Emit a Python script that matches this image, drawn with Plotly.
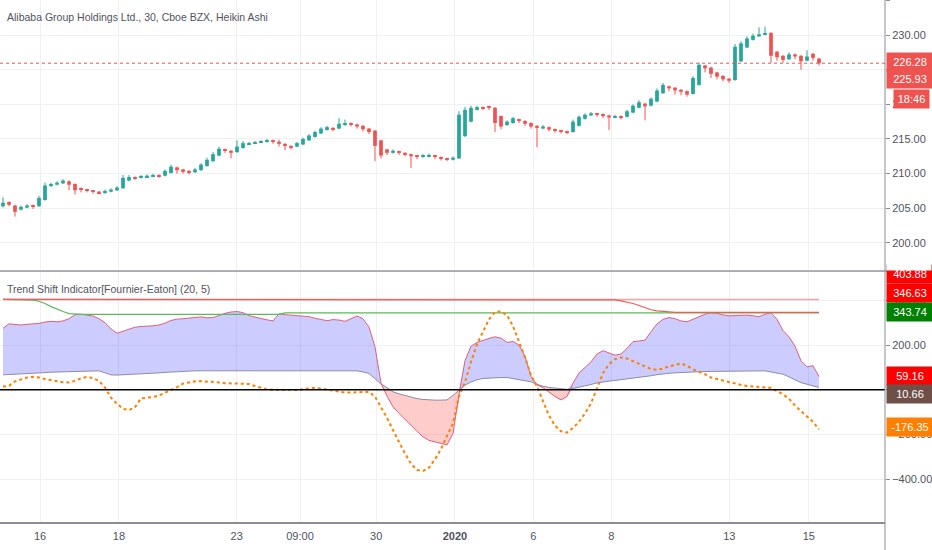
import plotly.graph_objects as go

# 30-minute Heikin Ashi bars, sampled every other bar
bar_index = list(range(137))
ha_open = [205.3, 205.9, 205.4, 204.8, 205.1, 205.4, 205.3, 206.2, 208.2, 208.4,
           208.6, 208.9, 208.5, 207.9, 207.7, 207.5, 207.4, 207.2, 207.4, 207.6,
           207.9, 209.0, 209.5, 209.4, 209.5, 209.6, 209.8, 209.7, 210.1, 210.9,
           210.6, 210.4, 210.2, 210.5, 211.1, 211.8, 212.6, 213.5, 213.3, 213.1,
           213.7, 214.2, 214.4, 214.5, 214.6, 214.8, 214.6, 214.3, 214.0, 213.9,
           214.2, 214.8, 215.3, 215.8, 216.3, 216.6, 216.5, 217.0, 217.3, 217.1,
           216.9, 216.5, 216.2, 214.8, 213.5, 213.0, 213.2, 213.0, 212.8, 212.6,
           212.4, 212.5, 212.6, 212.4, 212.2, 212.0, 212.2, 215.4, 217.5, 219.2,
           219.6, 219.65, 219.5, 218.3, 217.0, 217.3, 217.8, 217.6, 217.3, 216.9,
           216.5, 216.7, 216.4, 216.25, 216.15, 216.0, 216.9, 217.9, 218.4, 218.6,
           218.6, 218.4, 218.1, 218.3, 218.2, 218.8, 219.5, 220.1, 219.8, 220.4,
           221.6, 222.6, 222.4, 222.1, 221.9, 221.5, 222.8, 225.6, 225.3, 224.6,
           224.1, 223.7, 223.5, 226.2, 228.2, 229.3, 229.8, 230.1, 230.3, 227.6,
           227.0, 226.5, 227.2, 227.0, 226.3, 227.3, 226.6]
ha_close = [205.8, 205.5, 204.5, 205.2, 205.4, 205.2, 206.5, 208.3, 208.5, 208.7,
            209.0, 208.4, 207.6, 207.7, 207.5, 207.35, 207.2, 207.5, 207.7, 208.0,
            209.4, 209.5, 209.35, 209.6, 209.7, 209.8, 209.65, 210.4, 211.0, 210.5,
            210.25, 210.2, 210.6, 211.3, 212.0, 212.8, 213.6, 213.3, 213.0, 213.9,
            214.4, 214.4, 214.5, 214.6, 214.8, 214.6, 214.3, 214.0, 213.8, 214.4,
            215.0, 215.5, 216.0, 216.5, 216.7, 216.4, 217.2, 217.3, 217.1, 216.8,
            216.4, 216.0, 214.0, 212.6, 213.0, 213.3, 213.0, 212.8, 212.5, 212.4,
            212.6, 212.7, 212.4, 212.2, 212.0, 212.3, 218.5, 219.2, 219.5, 219.6,
            219.45, 219.5, 217.3, 216.8, 217.5, 218.0, 217.6, 217.2, 216.8, 216.6,
            216.8, 216.35, 216.2, 216.1, 216.0, 217.5, 218.2, 218.5, 218.7, 218.5,
            218.3, 218.1, 218.3, 218.1, 219.0, 219.8, 220.3, 219.7, 220.8, 222.0,
            222.8, 222.3, 222.0, 221.8, 221.4, 223.8, 225.7, 225.2, 224.4, 224.0,
            223.6, 223.4, 228.3, 228.8, 229.5, 229.9, 230.1, 230.3, 227.0, 226.8,
            226.4, 227.2, 226.9, 226.2, 226.9, 226.7, 225.93]
ha_high = [206.6, 206.0, 205.5, 205.4, 205.6, 205.5, 206.8, 208.7, 208.7, 208.9,
           209.2, 209.0, 208.6, 208.0, 207.8, 207.6, 207.5, 207.7, 207.9, 208.2,
           209.8, 209.8, 209.6, 209.8, 209.9, 210.0, 209.9, 210.6, 211.3, 211.0,
           210.7, 210.5, 210.8, 211.5, 212.3, 213.1, 213.9, 213.6, 213.4, 214.8,
           214.7, 214.6, 214.7, 214.8, 215.0, 214.9, 214.9, 214.4, 214.1, 214.6,
           215.2, 215.7, 216.2, 216.7, 216.9, 216.7, 218.0, 217.8, 217.4, 217.2,
           217.0, 216.6, 216.3, 214.9, 213.6, 213.5, 213.3, 213.1, 212.9, 212.7,
           212.8, 212.9, 212.7, 212.5, 212.3, 212.5, 219.0, 219.6, 219.8, 219.8,
           219.7, 219.8, 219.6, 218.4, 217.7, 218.2, 217.9, 217.7, 217.4, 217.0,
           217.0, 216.8, 216.5, 216.3, 216.2, 217.8, 218.4, 218.7, 218.9, 218.7,
           218.7, 218.5, 218.5, 218.4, 219.2, 220.0, 220.6, 220.2, 221.0, 222.3,
           223.1, 222.7, 222.5, 222.2, 222.0, 224.1, 226.0, 225.7, 225.4, 224.7,
           224.2, 223.8, 228.7, 229.1, 229.8, 230.2, 231.1, 231.2, 230.4, 227.7,
           227.1, 227.5, 227.3, 227.1, 227.8, 227.4, 226.7]
ha_low = [205.1, 205.3, 203.8, 204.7, 205.0, 204.9, 205.2, 206.1, 208.1, 208.3,
          208.5, 207.6, 207.0, 207.3, 207.3, 207.1, 207.0, 207.1, 207.3, 207.5,
          207.8, 208.9, 209.1, 209.3, 209.4, 209.5, 209.4, 209.6, 210.0, 210.0,
          210.0, 209.9, 210.1, 210.4, 211.0, 211.7, 212.5, 213.0, 212.2, 213.0,
          213.6, 214.1, 214.3, 214.4, 214.5, 214.3, 213.9, 213.4, 213.5, 213.8,
          214.1, 214.7, 215.2, 215.7, 216.2, 216.1, 216.4, 216.9, 216.8, 216.5,
          216.1, 215.7, 211.8, 212.2, 212.7, 212.9, 212.7, 212.5, 210.8, 212.1,
          212.3, 212.4, 212.1, 211.9, 211.8, 211.9, 212.1, 215.3, 217.4, 219.1,
          219.2, 219.2, 216.0, 216.4, 216.9, 217.2, 217.3, 216.9, 216.5, 213.8,
          216.4, 216.1, 215.9, 215.8, 215.7, 215.9, 216.8, 217.8, 218.3, 218.2,
          218.0, 216.3, 218.0, 217.8, 218.1, 218.7, 219.4, 217.7, 219.7, 220.3,
          221.5, 221.9, 221.4, 221.3, 221.1, 221.4, 222.7, 224.6, 223.8, 223.6,
          223.3, 223.1, 223.4, 226.1, 228.1, 229.2, 229.7, 230.0, 226.0, 226.3,
          226.0, 226.4, 226.5, 225.0, 226.2, 226.3, 225.6]
last_price = 225.93
quote_price = 226.28
countdown = '18:46'

# Trend Shift Indicator [Fournier-Eaton] (20, 5)
tsi_upper = [275, 295, 292, 290, 293, 295, 297, 303, 306, 304,
             308, 318, 336, 338, 334, 330, 318, 300, 272, 253,
             262, 272, 280, 283, 284, 286, 290, 298, 310, 316,
             318, 320, 325, 326, 322, 323, 332, 342, 348, 350,
             345, 332, 325, 318, 313, 308, 340, 336, 333, 330,
             328, 327, 320, 313, 309, 314, 312, 306, 318, 330,
             318, 280, 192, 30, -28, -76, -105, -130, -158, -185,
             -210, -226, -233, -240, -246, -195, -20, 130, 195, 212,
             222, 230, 237, 231, 212, 216, 200, 150, 60, 22,
             10, -10, -30, -45, -30, 30, 75, 100, 125, 160,
             175, 165, 155, 160, 185, 215, 220, 222, 260, 295,
             315, 323, 318, 308, 304, 315, 327, 338, 345, 342,
             335, 331, 332, 334, 334, 331, 327, 338, 345, 315,
             265, 237, 195, 130, 103, 108, 59.16]
tsi_lower = [67, 68, 69, 71, 72, 73, 75, 77, 79, 80,
             81, 82, 83, 84, 85, 85, 85, 76, 67, 66,
             67, 68, 70, 71, 73, 74, 76, 78, 80, 81,
             83, 84, 85, 85, 85, 85, 85, 85, 85, 85,
             85, 85, 85, 85, 85, 85, 85, 85, 85, 85,
             85, 85, 85, 85, 85, 85, 85, 85, 85, 85,
             80, 73, 50, 25, 10, -9, -18, -26, -34, -39,
             -43, -46, -46, -46, -45, -25, 0, 21, 35, 45,
             51, 53, 54, 55, 55, 50, 45, 40, 36, 25,
             16, 11, 7, 4, 2, 6, 11, 17, 24, 31,
             36, 39, 42, 45, 48, 51, 55, 59, 63, 68,
             72, 74, 76, 78, 79, 80, 81, 82, 82, 83,
             83, 84, 84, 85, 85, 85, 85, 85, 80, 74,
             70, 58, 45, 32, 25, 18, 10.66]
tsi_signal = [15, 18, 38, 48, 55, 58, 55, 48, 43, 38,
              34, 33, 40, 52, 58, 52, 40, 10, -35, -62,
              -85, -90, -78, -38, -35, -32, -25, -12, -2, 12,
              28, 34, 38, 39, 38, 36, 33, 30, 29, 29,
              29, 26, 17, 8, 2, 0, -1, -1, -1, -1,
              3, 7, 9, 6, 2, -1, -7, -12, -12, -11,
              -10, -9, -30, -75, -125, -180, -235, -285, -330, -358,
              -362, -348, -310, -265, -205, -150, -30, 35, 125, 205,
              260, 315, 348, 350, 334, 285, 215, 145, 65, 15,
              -50, -115, -160, -185, -191, -170, -143, -105, -60, 10,
              75, 115, 137, 145, 140, 128, 116, 104, 93, 90,
              95, 105, 113, 118, 108, 92, 81, 70, 55, 48,
              40, 33, 28, 22, 17, 14, 11, 10, 9, -5,
              -20, -40, -70, -95, -120, -143, -176.35]
tsi_max = [403.88] * 102 + [402, 398, 393, 386, 377, 366, 358, 353, 350, 348] + [346.63] * 25
tsi_min = [403.88] * 5 + [401, 396, 386, 372, 360, 350, 341, 338] + [337] * 34 + [343.74] * 90
tsi_ceiling = 403.88

# x-axis labels, placed at the bar where each day starts
tick_pos = [6.17, 19.33, 38.95, 49.5, 62.2, 75.33, 88.4, 101.4, 121.05, 134.3]
tick_text = ['16', '18', '23', '09:00', '30', '<b>2020</b>', '6', '8', '13', '15']

UP = '#26a69a'
DOWN = '#ef5350'
GRID = '#eef0f4'
TXT = '#50535e'
FONT = 'Liberation Sans, Arial, sans-serif'


def candles(fig):
    for rising, color in ((True, UP), (False, DOWN)):
        xs, base, height, wx, wy = [], [], [], [], []
        for i, o, c, h, l in zip(bar_index, ha_open, ha_close, ha_high, ha_low):
            if (c >= o) != rising:
                continue
            xs.append(i)
            base.append(min(o, c))
            height.append(max(abs(c - o), 0.12))
            wx += [i, i, None]
            wy += [l, h, None]
        fig.add_trace(go.Scatter(x=wx, y=wy, mode='lines', line=dict(color=color, width=1),
                                 xaxis='x', yaxis='y', hoverinfo='skip'))
        fig.add_trace(go.Bar(x=xs, y=height, base=base, width=0.62, marker=dict(color=color, line_width=0),
                             xaxis='x', yaxis='y', hoverinfo='skip'))


def indicator(fig):
    blue_top = [max(u, l) for u, l in zip(tsi_upper, tsi_lower)]
    red_bot = [min(u, l) for u, l in zip(tsi_upper, tsi_lower)]
    ax = dict(xaxis='x2', yaxis='y2', hoverinfo='skip')

    fig.add_trace(go.Scatter(x=bar_index, y=tsi_lower, mode='lines', line=dict(width=0), **ax))
    fig.add_trace(go.Scatter(x=bar_index, y=blue_top, mode='lines', line=dict(width=0),
                             fill='tonexty', fillcolor='rgba(0,0,255,0.2)', **ax))
    fig.add_trace(go.Scatter(x=bar_index, y=tsi_lower, mode='lines', line=dict(width=0), **ax))
    fig.add_trace(go.Scatter(x=bar_index, y=red_bot, mode='lines', line=dict(width=0),
                             fill='tonexty', fillcolor='rgba(255,0,0,0.2)', **ax))
    fig.add_trace(go.Scatter(x=bar_index, y=tsi_lower, mode='lines',
                             line=dict(color='#8c8ca6', width=1), **ax))
    fig.add_trace(go.Scatter(x=bar_index, y=tsi_upper, mode='lines',
                             line=dict(color='#e0607a', width=1), **ax))

    fig.add_trace(go.Scatter(x=[bar_index[0], bar_index[-1]], y=[tsi_ceiling] * 2, mode='lines',
                             line=dict(color='#f4a4a4', width=1.5), **ax))
    fig.add_trace(go.Scatter(x=bar_index, y=tsi_min, mode='lines',
                             line=dict(color='#5cb85c', width=1.2), **ax))
    fig.add_trace(go.Scatter(x=bar_index, y=tsi_max, mode='lines',
                             line=dict(color='#f05a5a', width=1.2), **ax))
    fig.add_trace(go.Scatter(x=bar_index, y=tsi_signal, mode='lines',
                             line=dict(color='#ff7f00', width=2, dash='dot'), **ax))


def price_label(text, yref, value, shift, bg, width=42, xshift=1):
    return dict(xref='paper', x=1, xanchor='left', xshift=xshift, yref=yref, y=value, yshift=shift,
                text=text, showarrow=False, bgcolor=bg, width=width, height=14, borderpad=2,
                font=dict(color='white', size=11, family=FONT))


fig = go.Figure()
candles(fig)
indicator(fig)

axis_common = dict(showgrid=True, gridcolor=GRID, gridwidth=1, zeroline=False)
fig.update_layout(
    width=932, height=550,
    margin=dict(l=0, r=47, t=0, b=28),
    paper_bgcolor='white', plot_bgcolor='white',
    showlegend=False, barmode='overlay', hovermode=False,
    font=dict(family=FONT, color=TXT, size=11),
    xaxis=dict(domain=[0, 1], range=[-0.5, 147], tickvals=tick_pos, ticktext=tick_text,
               showticklabels=False, anchor='y', **axis_common),
    xaxis2=dict(domain=[0, 1], range=[-0.5, 147], tickvals=tick_pos, ticktext=tick_text,
                matches='x', anchor='y2', showline=True, linecolor='#8a8d96', linewidth=2,
                ticks='outside', ticklen=3, tickcolor='rgba(0,0,0,0)', **axis_common),
    yaxis=dict(domain=[0.4828, 1], range=[196.1, 235.05], side='right', anchor='x',
               dtick=5, tick0=200, tickformat='.2f', ticks='outside', ticklen=4, tickcolor='#8a8d96',
               **axis_common),
    yaxis2=dict(domain=[0, 0.4789], range=[-590.6, 526.6], side='right', anchor='x2',
                dtick=200, tick0=0, tickformat='.2f', ticks='outside', ticklen=4, tickcolor='#8a8d96',
                **axis_common),
    shapes=[
        dict(type='line', xref='x domain', x0=0, x1=1, yref='y', y0=last_price, y1=last_price,
             line=dict(color=DOWN, width=1, dash='dot')),
        dict(type='line', xref='x2 domain', x0=0, x1=1, yref='y2', y0=0, y1=0,
             line=dict(color='black', width=1.5)),
        dict(type='line', xref='paper', x0=0, x1=1.06, yref='paper', y0=0.4808, y1=0.4808,
             line=dict(color='#5d606b', width=1)),
        dict(type='line', xref='paper', x0=1, x1=1, yref='paper', y0=-0.06, y1=1,
             line=dict(color='#8a8d96', width=1)),
    ],
    annotations=[
        dict(xref='paper', x=0, xanchor='left', xshift=5, yref='paper', y=0.9674, yanchor='middle',
             text='Alibaba Group Holdings Ltd., 30, Cboe BZX, Heikin Ashi', showarrow=False,
             font=dict(size=10.5, color=TXT)),
        dict(xref='paper', x=0, xanchor='left', xshift=5, yref='paper', y=0.4464, yanchor='middle',
             text='Trend Shift Indicator[Fournier-Eaton] (20, 5)', showarrow=False,
             font=dict(size=10.5, color=TXT)),
        price_label(f'{quote_price:.2f}', 'y', quote_price, -1, DOWN),
        price_label(f'{last_price:.2f}', 'y', last_price, -16, DOWN),
        price_label(countdown, 'y', last_price, -36, DOWN, width=31, xshift=8),
        price_label(f'{tsi_ceiling:.2f}', 'y2', tsi_ceiling, 25, '#ff0000'),
        dict(xref='paper', x=1, xanchor='left', xshift=1, yref='paper', y=0.4981, text=' ',
             showarrow=False, bgcolor='white', width=44, height=16, borderpad=0),
        price_label(f'{tsi_max[-1]:.2f}', 'y2', tsi_max[-1], 19, '#ff0000'),
        price_label(f'{tsi_min[-1]:.2f}', 'y2', tsi_min[-1], 1, '#008000'),
        price_label(f'{tsi_upper[-1]:.2f}', 'y2', tsi_upper[-1], 1, '#ff0000'),
        price_label(f'{tsi_lower[-1]:.2f}', 'y2', tsi_lower[-1], -7, '#6e5049'),
        price_label(f'{tsi_signal[-1]:.2f}', 'y2', tsi_signal[-1], 2, '#ff8000'),
    ],
)

fig.write_html('out.html', config={'displayModeBar': False},
               post_script="document.body.style.margin='0';")
